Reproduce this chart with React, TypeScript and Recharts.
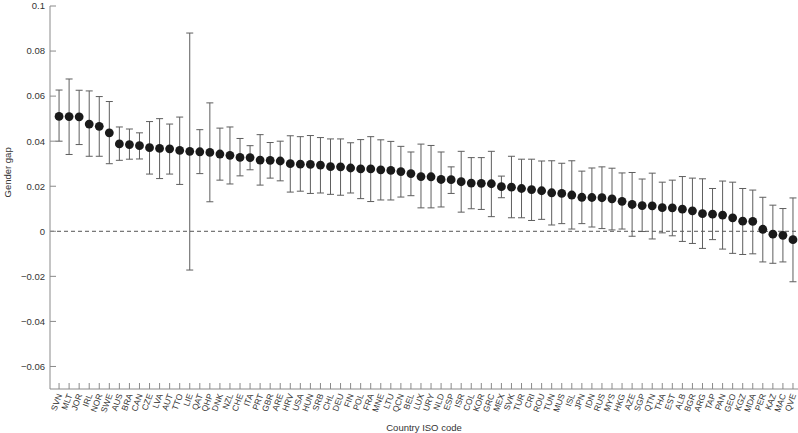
import React from "react";
import {
  ComposedChart,
  Scatter,
  ErrorBar,
  XAxis,
  YAxis,
  ReferenceLine,
} from "recharts";

// country codes, in plotted order
const codes = [
  "SVN", "MLT", "JOR", "IRL", "NOR", "SWE", "AUS", "BRA", "CAN", "CZE",
  "LVA", "AUT", "TTO", "LIE", "QAT", "QHP", "DNK", "NZL", "CHE", "ITA",
  "PRT", "GBR", "ARE", "HRV", "USA", "HUN", "SRB", "CHL", "DEU", "FIN",
  "POL", "FRA", "MNE", "LTU", "QCN", "BEL", "LUX", "URY", "NLD", "ESP",
  "ISR", "COL", "KOR", "GRC", "MEX", "SVK", "TUR", "CRI", "ROU", "TUN",
  "MUS", "ISL", "JPN", "IDN", "RUS", "MYS", "HKG", "AZE", "SGP", "QTN",
  "THA", "EST", "ALB", "BGR", "ARG", "TAP", "PAN", "GEO", "KGZ", "MDA",
  "PER", "KAZ", "MAC", "QVE",
];

// point estimate of the gender gap
const gap = [
  0.0510, 0.0509, 0.0508, 0.0476, 0.0466, 0.0437, 0.0388, 0.0385, 0.0380, 0.0371,
  0.0368, 0.0366, 0.0359, 0.0355, 0.0353, 0.0350, 0.0343, 0.0337, 0.0328, 0.0327,
  0.0316, 0.0315, 0.0312, 0.0300, 0.0298, 0.0297, 0.0294, 0.0287, 0.0286, 0.0281,
  0.0277, 0.0277, 0.0273, 0.0270, 0.0265, 0.0256, 0.0243, 0.0242, 0.0230, 0.0229,
  0.0220, 0.0214, 0.0213, 0.0211, 0.0198, 0.0196, 0.0190, 0.0185, 0.0180, 0.0171,
  0.0168, 0.0161, 0.0151, 0.0150, 0.0149, 0.0144, 0.0133, 0.0119, 0.0114, 0.0113,
  0.0105, 0.0104, 0.0098, 0.0091, 0.0078, 0.0076, 0.0072, 0.0060, 0.0045, 0.0044,
  0.0009, -0.0013, -0.0018, -0.0037,
];

// confidence interval bounds
const lower = [
  0.0400, 0.0341, 0.0385, 0.0333, 0.0333, 0.0300, 0.0315, 0.0320, 0.0321, 0.0254,
  0.0234, 0.0254, 0.0208, -0.0172, 0.0256, 0.0131, 0.0227, 0.0210, 0.0246, 0.0273,
  0.0205, 0.0236, 0.0224, 0.0174, 0.0178, 0.0168, 0.0170, 0.0164, 0.0160, 0.0170,
  0.0145, 0.0132, 0.0139, 0.0139, 0.0152, 0.0158, 0.0104, 0.0104, 0.0108, 0.0168,
  0.0085, 0.0100, 0.0097, 0.0065, 0.0149, 0.0060, 0.0060, 0.0048, 0.0053, 0.0028,
  0.0034, 0.0010, 0.0034, 0.0019, 0.0012, 0.0006, 0.0010, -0.0022, -0.0001, -0.0034,
  -0.0007, -0.0020, -0.0045, -0.0054, -0.0076, -0.0037, -0.0079, -0.0098, -0.0103, -0.0100,
  -0.0136, -0.0142, -0.0136, -0.0224,
];

const upper = [
  0.0627, 0.0676, 0.0626, 0.0623, 0.0598, 0.0576, 0.0463, 0.0454, 0.0437, 0.0487,
  0.0500, 0.0476, 0.0507, 0.0880, 0.0451, 0.0570, 0.0458, 0.0463, 0.0412, 0.0380,
  0.0429, 0.0394, 0.0400, 0.0424, 0.0420, 0.0425, 0.0416, 0.0410, 0.0410, 0.0393,
  0.0407, 0.0420, 0.0406, 0.0399, 0.0377, 0.0352, 0.0387, 0.0381, 0.0352, 0.0286,
  0.0355, 0.0327, 0.0327, 0.0355, 0.0245, 0.0333, 0.0320, 0.0320, 0.0312, 0.0313,
  0.0302, 0.0313, 0.0267, 0.0281, 0.0286, 0.0280, 0.0259, 0.0261, 0.0232, 0.0258,
  0.0218, 0.0227, 0.0243, 0.0236, 0.0233, 0.0190, 0.0223, 0.0218, 0.0190, 0.0183,
  0.0151, 0.0116, 0.0101, 0.0148,
];

const yTicks = [-0.06, -0.04, -0.02, 0, 0.02, 0.04, 0.06, 0.08, 0.1];

const data = codes.map((code, i) => ({
  idx: i,
  code,
  gap: gap[i],
  err: [gap[i] - lower[i], upper[i] - gap[i]],
}));

const FONT = "'Liberation Sans', Arial, sans-serif";
const AXIS = "#8a8a8a";
const TEXT = "#333";

const XTick = (props: any) => {
  const { x, y, payload } = props;
  const label = codes[payload.value] ?? "";
  return (
    <g>
      <line x1={x} y1={y} x2={x} y2={y - 6} stroke={AXIS} />
      <text
        x={0}
        y={0}
        transform={`translate(${x + 0.5},${y + 5}) rotate(-70)`}
        textAnchor="end"
        dy="0.35em"
        fontSize={8.5}
        fontFamily={FONT}
        fill={TEXT}
      >
        {label}
      </text>
    </g>
  );
};

const YTick = (props: any) => {
  const { x, y, payload } = props;
  const v = payload.value;
  const label = v === 0 ? "0" : v < 0 ? `\u2212${String(-v)}` : String(v);
  return (
    <g>
      <line x1={x} y1={y} x2={x + 6} y2={y} stroke={AXIS} />
      <text
        x={x - 5}
        y={y}
        dy="0.35em"
        textAnchor="end"
        fontSize={9.5}
        fontFamily={FONT}
        fill={TEXT}
      >
        {label}
      </text>
    </g>
  );
};

const Dot = (props: any) => (
  <circle cx={props.cx} cy={props.cy} r={4.4} fill="#1a1a1a" />
);

export default function App() {
  return (
    <div style={{ position: "absolute", left: 0, top: 0, background: "#fff" }}>
      <ComposedChart
        width={798}
        height={433}
        data={data}
        margin={{ top: 6, right: 0, bottom: 0, left: 0 }}
      >
        <XAxis
          type="number"
          dataKey="idx"
          domain={[-0.9, 73.5]}
          ticks={data.map((d) => d.idx)}
          interval={0}
          tick={<XTick />}
          tickLine={false}
          tickSize={0}
          tickMargin={0}
          height={44}
          stroke={AXIS}
          label={{
            value: "Country ISO code",
            position: "insideBottom",
            offset: 2,
            fontSize: 9.5,
            fontFamily: FONT,
            fill: TEXT,
          }}
        />
        <YAxis
          type="number"
          domain={[-0.07, 0.1]}
          ticks={yTicks}
          interval={0}
          tick={<YTick />}
          tickLine={false}
          tickSize={0}
          tickMargin={0}
          width={50}
          stroke={AXIS}
          label={{
            value: "Gender gap",
            angle: -90,
            position: "insideLeft",
            offset: 8,
            fontSize: 9.5,
            fontFamily: FONT,
            fill: TEXT,
          }}
        />
        <ReferenceLine y={0} stroke="#555" strokeDasharray="4 3" />
        <Scatter
          dataKey="gap"
          shape={<Dot />}
          isAnimationActive={false}
        >
          <ErrorBar
            dataKey="err"
            direction="y"
            width={3.5}
            stroke="#5e5e5e"
            strokeWidth={1}
            isAnimationActive={false}
          />
        </Scatter>
      </ComposedChart>
    </div>
  );
}
